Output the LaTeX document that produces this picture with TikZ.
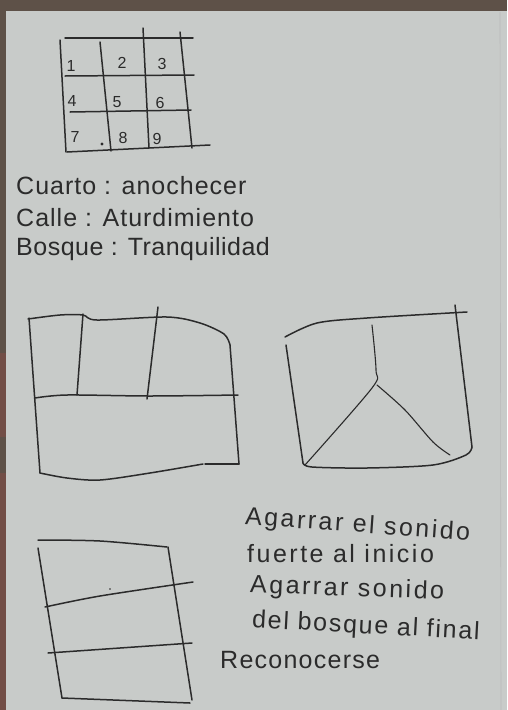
\documentclass[tikz,border=0pt]{standalone}
\usepackage{fontspec}
\setmainfont{Liberation Sans}
\definecolor{paper}{HTML}{C8CBC9}
\definecolor{frame}{HTML}{5E5148}
\definecolor{framered}{HTML}{724E46}
\definecolor{ink}{HTML}{2B2B2B}
\begin{document}
\begin{tikzpicture}[x=1pt,y=-1pt,
  pen/.style={draw=ink,line width=1.5pt,line cap=round,line join=round},
  thin pen/.style={draw=ink,line width=1.1pt,line cap=round,line join=round},
  hand/.style={text=ink,inner sep=0pt,anchor=west,font=\fontsize{25}{28}\selectfont\addfontfeature{LetterSpace=4}},
  note/.style={text=ink,inner sep=0pt,anchor=west,font=\fontsize{25}{28}\selectfont\addfontfeature{LetterSpace=10}},
  num/.style={text=ink,inner sep=0pt,font=\fontsize{16}{18}\selectfont}]
\useasboundingbox (0,0) rectangle (507,710);
\fill[frame] (0,0) rectangle (507,710);
\fill[framered] (0,353) rectangle (6,437);
\fill[framered] (0,473) rectangle (6,710);
\fill[paper] (6,11) rectangle (507,710);
\draw[gray!55,line width=0.6pt] (500,12) -- (501,710);
% grid
\draw[pen] (65,38) -- (193,38);
\draw[pen] (60,40) -- (66,152);
\draw[pen] (100,42) -- (111,151);
\draw[pen] (143,28) -- (149,148);
\draw[pen] (180,32) -- (192,148);
\draw[pen] (65,76) -- (194,75);
\draw[pen] (70,112) -- (191,110);
\draw[pen] (67,152) -- (210,145);
\node[num] (n1) at (71,66) {1};
\node[num] (n2) at (122,63) {2};
\node[num] (n3) at (162,64) {3};
\node[num] (n4) at (72,101) {4};
\node[num] (n5) at (117,102) {5};
\node[num] (n6) at (160,103) {6};
\node[num] (n7) at (75,137) {7};
\node[num] (n8) at (123,138) {8};
\node[num] (n9) at (157,139) {9};
\fill[ink] (102,144) circle (1.6pt);
% text lines
\node[hand] (t1) at (16,186) {Cuarto : anochecer};
\node[hand] (t2) at (16,218) {Calle : Aturdimiento};
\node[hand,font=\fontsize{25}{28}\selectfont\addfontfeature{LetterSpace=2}] (t3) at (16,249) {Bosque : Tranquilidad};
% left box
\draw[pen] plot[smooth] coordinates {(28,319) (60,315) (83,315) (97,320) (167,317) (200,323) (224,334) (230,345)};
\draw[pen] (29,318) -- (40,473);
\draw[pen] plot[smooth] coordinates {(40,473) (67,478) (100,480) (150,473) (203,464)};
\draw[pen] (205,464) -- (239,464);
\draw[pen] (230,345) -- (239,464);
\draw[pen] plot[smooth] coordinates {(35,398) (67,395) (150,396) (238,395)};
\draw[pen] (83,314) -- (77,395);
\draw[pen] (158,307) -- (147,399);
% right box
\draw[pen] plot[smooth] coordinates {(285,337) (317,323) (367,318) (467,312)};
\draw[pen] (286,345) -- (303,463);
\draw[pen] plot[smooth] coordinates {(303,463) (312,467) (367,468) (433,465) (466,455) (472,447)};
\draw[pen] (455,305) -- (472,447);
\draw[thin pen] plot[smooth] coordinates {(372,325) (376,370) (372,388) (305,465)};
\draw[thin pen] plot[smooth] coordinates {(377,385) (405,410) (433,442) (450,455)};
% bottom box
\draw[pen] plot[smooth] coordinates {(38,540) (100,541) (167,547)};
\draw[pen] (38,548) -- (62,698);
\draw[pen] (62,698) -- (190,703);
\draw[pen] (168,547) -- (192,700);
\draw[pen] plot[smooth] coordinates {(45,607) (100,596) (193,582)};
\draw[pen] (48,653) -- (192,643);
\fill[ink] (110,589) circle (0.9pt);
% notes
\node[note,rotate=-4] (a1) at (245,518) {Agarrar el sonido};
\node[note] (a2) at (247,554) {fuerte al inicio};
\node[note,rotate=-2] (a3) at (250,586) {Agarrar sonido};
\node[note,rotate=-3,font=\fontsize{25}{28}\selectfont\addfontfeature{LetterSpace=7}] (a4) at (252,621) {del bosque al final};
\node[note,font=\fontsize{25}{28}\selectfont\addfontfeature{LetterSpace=5}] (a5) at (220,660) {Reconocerse};
\end{tikzpicture}
\end{document}
